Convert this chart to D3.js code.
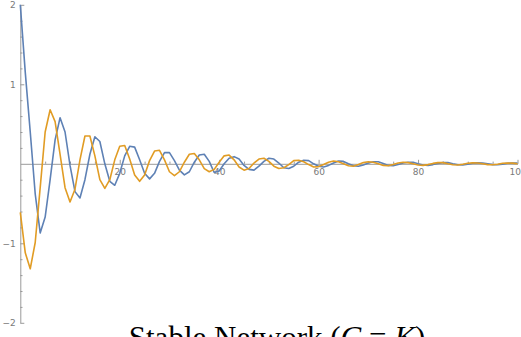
<!DOCTYPE html>
<html>
<head>
<meta charset="utf-8">
<script src="https://cdn.jsdelivr.net/npm/d3@7/dist/d3.min.js"></script>
<style>
  html, body { margin: 0; padding: 0; background: #fff; }
  svg { display: block; }
</style>
</head>
<body>
<svg id="chart" width="521" height="337"></svg>
<script>
// ---- data (sampled at t = 0, 1, 2, ..., 100) ----
const blueValues = [
  2.00, 1.15, 0.40, -0.38, -0.87, -0.67, -0.20, 0.30, 0.58, 0.40,
  -0.02, -0.35, -0.43, -0.20, 0.12, 0.34, 0.28, 0.00, -0.22, -0.27,
  -0.12, 0.10, 0.22, 0.21, 0.05, -0.12, -0.19, -0.12, 0.03, 0.14,
  0.14, 0.04, -0.08, -0.14, -0.10, 0.02, 0.11, 0.12, 0.03, -0.11,
  -0.09, 0.00, 0.07, 0.09, 0.06, -0.02, -0.07, -0.08, -0.03, 0.03,
  0.07, 0.06, 0.01, -0.05, -0.06, -0.03, 0.02, 0.045, 0.04, 0.00,
  -0.03, -0.04, -0.02, 0.01, 0.035, 0.03, 0.00, -0.025, -0.03, -0.015,
  0.01, 0.025, 0.025, 0.005, -0.02, -0.025, -0.01, 0.01, 0.02, 0.02,
  0.00, -0.015, -0.02, -0.01, 0.005, 0.015, 0.015, 0.00, -0.012, -0.015,
  -0.005, 0.008, 0.012, 0.01, 0.00, -0.01, -0.012, -0.004, 0.006, 0.01,
  0.008
];
const orangeValues = [
  -0.61, -1.12, -1.32, -0.99, -0.30, 0.40, 0.68, 0.53, 0.12, -0.30,
  -0.48, -0.32, 0.05, 0.35, 0.35, 0.10, -0.20, -0.31, -0.20, 0.05,
  0.22, 0.23, 0.06, -0.14, -0.22, -0.14, 0.04, 0.16, 0.17, 0.05,
  -0.10, -0.15, -0.10, 0.02, 0.12, 0.13, 0.05, -0.06, -0.10, -0.07,
  0.02, 0.10, 0.11, 0.05, -0.04, -0.08, -0.06, 0.01, 0.06, 0.07,
  0.03, -0.03, -0.06, -0.05, -0.01, 0.04, 0.045, 0.025, -0.01, -0.04,
  -0.035, -0.01, 0.02, 0.035, 0.025, 0.00, -0.025, -0.03, -0.01, 0.015,
  0.025, 0.02, 0.00, -0.02, -0.025, -0.01, 0.01, 0.02, 0.015, 0.00,
  -0.015, -0.02, -0.01, 0.005, 0.015, 0.015, 0.00, -0.012, -0.015, -0.006,
  0.006, 0.012, 0.01, 0.00, -0.01, -0.012, -0.005, 0.006, 0.01, 0.008,
  0.00
];
const xMajorTicks = [20, 40, 60, 80, 100];
const xMinorTicks = [5, 10, 15, 25, 30, 35, 45, 50, 55, 65, 70, 75, 85, 90, 95];
const yMajorTicks = [-2, -1, 1, 2];
const yMinorTicks = [-1.8, -1.6, -1.4, -1.2, -0.8, -0.6, -0.4, -0.2, 0.2, 0.4, 0.6, 0.8, 1.2, 1.4, 1.6, 1.8];
const titleParts = [
  { text: "Stable Network (", italic: false },
  { text: "C", italic: true },
  { text: " = ", italic: false },
  { text: "K", italic: true },
  { text: ")", italic: false }
];

// ---- drawing ----
const svg = d3.select("#chart");
const x = d3.scaleLinear().domain([0, 100]).range([20.3, 517.5]);
const y = d3.scaleLinear().domain([-2, 2]).range([322.8, 4.8]);

const axisColor = "#9a9a9a";
const labelColor = "#7a7a7a";

// X axis (at y = 0)
const gx = svg.append("g").attr("transform", `translate(0,${y(0)})`);
gx.call(d3.axisBottom(x).tickValues(xMajorTicks).tickSizeInner(-4).tickSizeOuter(0).tickPadding(5));
const gxm = svg.append("g").attr("transform", `translate(0,${y(0)})`);
gxm.call(d3.axisBottom(x).tickValues(xMinorTicks).tickSizeInner(-2.2).tickSizeOuter(0).tickFormat(""));
gxm.select(".domain").remove();

// Y axis (at x = 0)
const gy = svg.append("g").attr("transform", `translate(${x(0)},0)`);
gy.call(d3.axisLeft(y).tickValues(yMajorTicks).tickSizeInner(-4).tickSizeOuter(0).tickPadding(4)
  .tickFormat(d => d < 0 ? "\u2212" + Math.abs(d) : d));
const gym = svg.append("g").attr("transform", `translate(${x(0)},0)`);
gym.call(d3.axisLeft(y).tickValues(yMinorTicks).tickSizeInner(-2.2).tickSizeOuter(0).tickFormat(""));
gym.select(".domain").remove();

[gx, gxm, gy, gym].forEach(g => {
  g.selectAll(".domain").attr("stroke", axisColor).attr("stroke-width", 1);
  g.selectAll(".tick line").attr("stroke", axisColor).attr("stroke-width", 1);
  g.selectAll(".tick text").attr("fill", labelColor)
    .style("font-family", "'DejaVu Sans', sans-serif").style("font-size", "9px");
});
gx.selectAll(".tick text").attr("text-anchor", "middle");
gy.selectAll(".tick text").attr("x", -4.5);

// Lines
const line = d3.line().x((d, i) => x(i)).y(d => y(d));
svg.append("path").datum(blueValues)
  .attr("fill", "none").attr("stroke", "#5E81B5").attr("stroke-width", 1.6)
  .attr("stroke-linejoin", "round").attr("d", line);
svg.append("path").datum(orangeValues)
  .attr("fill", "none").attr("stroke", "#E19C24").attr("stroke-width", 1.6)
  .attr("stroke-linejoin", "round").attr("d", line);

// Title (partially cut off at bottom, as in the reference)
const title = svg.append("text")
  .attr("x", 277).attr("y", 348)
  .attr("text-anchor", "middle")
  .style("font-family", "'Liberation Serif', 'DejaVu Serif', serif")
  .style("font-size", "31px")
  .attr("fill", "#000");
titleParts.forEach(p => {
  title.append("tspan").text(p.text).style("font-style", p.italic ? "italic" : "normal");
});
</script>
</body>
</html>
